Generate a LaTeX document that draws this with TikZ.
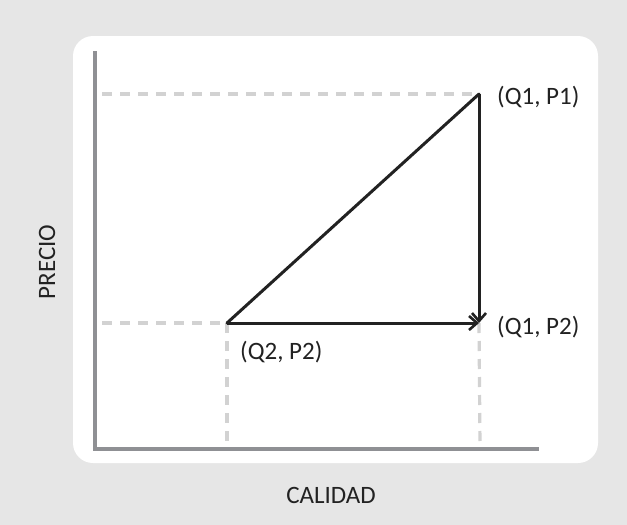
\documentclass[tikz,border=0pt]{standalone}
\usepackage{fontspec}
\setmainfont{Carlito}
\usetikzlibrary{arrows.meta}
\definecolor{bggray}{HTML}{E6E6E6}
\definecolor{axisgray}{HTML}{8F9094}
\definecolor{dashgray}{HTML}{D2D2D2}
\definecolor{ink}{HTML}{222222}
\tikzset{
  axisline/.style={draw=axisgray, line width=3.2pt},
  guide/.style={draw=dashgray, line width=3.2pt, dash pattern=on 10pt off 8pt},
  move/.style={draw=ink, line width=3pt},
  movearrow/.style={move, -{Straight Barb[length=8pt,width=14pt,line width=2.6pt]}},
  lbl/.style={font=\fontsize{25}{30}\selectfont, text=ink, inner sep=0pt},
}
\begin{document}
\begin{tikzpicture}[x=1pt,y=-1pt]
  \fill[bggray] (0,0) rectangle (627,525);
  \useasboundingbox (0,0) rectangle (627,525);
  \fill[white, rounded corners=20pt] (73,36) rectangle (598,463);
  % points
  \coordinate (Q1P1) at (479,94);
  \coordinate (Q2P2) at (227,323);
  \coordinate (Q1P2) at (479,323);
  \coordinate (ytop) at (95,51);
  \coordinate (origin) at (95,449);
  \coordinate (xend) at (539,449);
  \coordinate (ylev1) at (102,94);
  \coordinate (ylev2) at (102,323);
  \coordinate (xq2) at (227,446);
  \coordinate (xq1) at (480,446);
  % guides
  \draw[guide] (ylev1) -- (Q1P1);
  \draw[guide] (ylev2) -- (Q2P2);
  \draw[guide] (Q2P2) -- (xq2);
  \draw[guide] (Q1P2) -- (xq1);
  % axes
  \draw[axisline] (ytop) -- (origin) -- (xend);
  % moves
  \draw[move, line cap=round] (Q2P2) -- (Q1P1);
  \draw[movearrow] (Q1P1) -- (Q1P2);
  \draw[movearrow] (Q2P2) -- (Q1P2);
  % labels
  \node[lbl, anchor=west] (l1) at (497,97) {(Q1, P1)};
  \node[lbl, anchor=west] (l2) at (497,327) {(Q1, P2)};
  \node[lbl, anchor=west] (l3) at (240,352) {(Q2, P2)};
  \node[lbl, rotate=90] (yl) at (47,262) {PRECIO};
  \node[lbl] (xl) at (331,495) {CALIDAD};
\end{tikzpicture}
\end{document}
